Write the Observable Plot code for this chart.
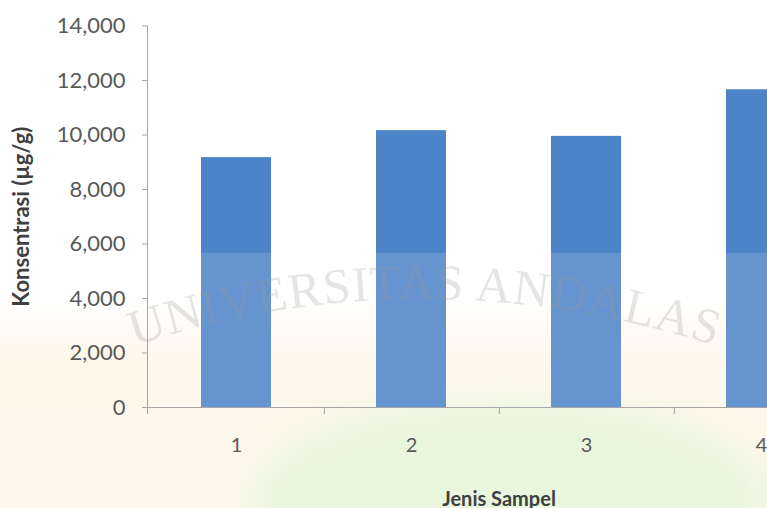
<!DOCTYPE html>
<html>
<head>
<meta charset="utf-8">
<script src="https://cdn.jsdelivr.net/npm/d3@7"></script>
<script src="https://cdn.jsdelivr.net/npm/@observablehq/plot@0.6"></script>
<style>
  html, body { margin: 0; padding: 0; background: #ffffff; }
  #wrap { position: relative; width: 767px; height: 508px; overflow: hidden; }
  #tint1 { position: absolute; left: 0; top: 300px; width: 767px; height: 208px;
           background: linear-gradient(180deg, rgba(252,240,215,0.0), rgba(252,240,215,0.55) 30%, rgba(252,240,215,0.45)); }
  #tint2 { position: absolute; left: 250px; top: 400px; width: 520px; height: 200px; border-radius: 50%;
           background: rgba(215,245,210,0.55); filter: blur(18px); }
  #chart { position: absolute; left: 0; top: 0; width: 880px; }
  #chart svg { max-width: none !important; }
  #veil { position: absolute; left: 150px; top: 253px; width: 617px; height: 154px;
          background: rgba(255,255,255,0.14); pointer-events: none; }
  #wm { position: absolute; left: 0; top: 0; pointer-events: none; }
</style>
</head>
<body>
<div id="wrap">
  <div id="tint1"></div>
  <div id="tint2"></div>
  <div id="chart"></div>
  <div id="veil"></div>
  <svg id="wm" width="767" height="508">
    <defs><path id="arc" d="M 128 348 Q 420 250 722 348"></path></defs>
    <text font-family="Liberation Serif" font-size="50" fill="#9a9a9a" fill-opacity="0.26" letter-spacing="1">
      <textPath href="#arc" startOffset="50%" text-anchor="middle">UNIVERSITAS ANDALAS</textPath>
    </text>
  </svg>
</div>
<script>
const categories = ["1", "2", "3", "4"];
const values = [9170, 10160, 9950, 11660];
const yTicks = [0, 2000, 4000, 6000, 8000, 10000, 12000, 14000];
const xTitle = "Jenis Sampel";
const yTitle = "Konsentrasi (µg/g)";

const data = categories.map((c, i) => ({cat: c, value: values[i]}));

const W = 880, ML = 147, MR = 30;
const step = (W - ML - MR) / categories.length;

const chart = Plot.plot({
  width: W,
  height: 508,
  marginLeft: ML,
  marginRight: MR,
  marginTop: 25.5,
  marginBottom: 101,
  style: {fontFamily: "Lato, 'Open Sans', sans-serif", background: "transparent", color: "#595959", maxWidth: "none"},
  x: {domain: categories, paddingInner: 0.6, paddingOuter: 0.3, axis: null},
  y: {domain: [0, 14000], axis: null},
  marks: [
    Plot.barY(data, {x: "cat", y: "value", fill: "#4d83c7"}),
    Plot.ruleY([0], {stroke: "#a6a6a6"}),
    Plot.frame({anchor: "left", stroke: "#a6a6a6", insetBottom: -6}),
    Plot.axisY({ticks: yTicks, tickSize: 5, tickPadding: 17, tickFormat: d3.format(","),
                fontSize: 22, stroke: "#a6a6a6", label: null}),
    Plot.axisY({ticks: [], tickSize: 0, label: yTitle, labelAnchor: "center", labelArrow: "none",
                labelOffset: 134, fontSize: 22, fontWeight: "bold", fill: "#404040"}),
    Plot.axisX({tickSize: 0, tickPadding: 30, fontSize: 20, label: null}),
    Plot.axisX({ticks: categories, tickSize: 7, tickFormat: () => "", dx: step / 2,
                stroke: "#a6a6a6", label: null}),
    Plot.axisX({ticks: [], tickSize: 0, label: xTitle, labelAnchor: "center", labelArrow: "none",
                labelOffset: 98, fontSize: 20, fontWeight: "bold", fill: "#404040"})
  ]
});
document.getElementById("chart").appendChild(chart);
</script>
</body>
</html>
